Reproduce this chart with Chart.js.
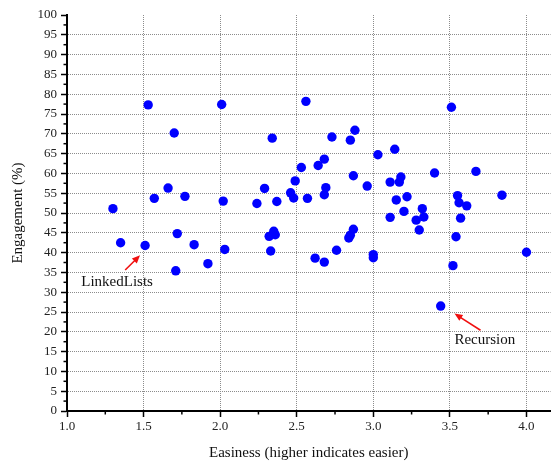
<!DOCTYPE html>
<html>
<head>
<meta charset="utf-8">
<script src="https://cdn.jsdelivr.net/npm/chart.js@4/dist/chart.umd.min.js"></script>
<style>
  html, body { margin: 0; padding: 0; background: #fff; }
</style>
</head>
<body>
<canvas id="easinessChart" width="551" height="462"></canvas>
<script>
// values, one entry per topic
const easiness = [
    1.30, 1.35, 1.51, 1.53, 1.57, 1.66, 1.70, 1.71, 1.72, 1.77,
    1.83, 1.92, 2.01, 2.02, 2.03, 2.24, 2.29, 2.32, 2.33, 2.34,
    2.35, 2.36, 2.37, 2.46, 2.48, 2.49, 2.53, 2.56, 2.57, 2.62,
    2.64, 2.68, 2.68, 2.68, 2.69, 2.73, 2.76, 2.84, 2.85, 2.85,
    2.87, 2.87, 2.88, 2.96, 3.00, 3.00, 3.03, 3.11, 3.11, 3.14,
    3.15, 3.17, 3.18, 3.20, 3.22, 3.28, 3.30, 3.32, 3.33, 3.40,
    3.44, 3.51, 3.52, 3.54, 3.55, 3.56, 3.57, 3.61, 3.67, 3.84,
    4.00
]
const engagement = [
    51.1, 42.5, 41.8, 77.3, 53.7, 56.3, 70.2, 35.4, 44.8, 54.2,
    42.0, 37.2, 77.4, 53.0, 40.8, 52.4, 56.2, 44.1, 40.4, 68.9,
    45.4, 44.5, 52.9, 55.1, 53.8, 58.1, 61.5, 78.2, 53.7, 38.6,
    62.0, 63.6, 54.6, 37.6, 56.4, 69.2, 40.6, 43.7, 44.4, 68.4,
    45.9, 59.4, 70.9, 56.8, 39.5, 38.7, 64.7, 57.8, 48.9, 66.1,
    53.3, 57.8, 59.1, 50.4, 54.1, 48.2, 45.7, 51.1, 49.0, 60.1,
    26.5, 76.7, 36.7, 44.0, 54.4, 52.6, 48.7, 51.8, 60.5, 54.5,
    40.1
]

const xTickValues = [1.0, 1.5, 2.0, 2.5, 3.0, 3.5, 4.0]
const xMinorTicks = [1.25, 1.75, 2.25, 2.75, 3.25, 3.75]
const yTickValues = [0, 5, 10, 15, 20, 25, 30, 35, 40, 45, 50, 55, 60, 65, 70, 75, 80, 85, 90, 95, 100]
const yMinorTicks = [2.5, 7.5, 12.5, 17.5, 22.5, 27.5, 32.5, 37.5, 42.5, 47.5, 52.5, 57.5, 62.5, 67.5, 72.5, 77.5, 82.5, 87.5, 92.5, 97.5]

// callouts: label text, label centre, arrow tail and head (data units)
const calloutTexts = ['LinkedLists', 'Recursion']
const calloutTextX = [1.327, 3.728]
const calloutTextY = [32.6, 17.9]
const arrowFromX = [1.38, 3.70]
const arrowFromY = [35.6, 20.4]
const arrowToX = [1.477, 3.53]
const arrowToY = [39.3, 24.6]

const serif = "'Liberation Serif', 'Times New Roman', serif"

const points = easiness.map((x, i) => ({x: x, y: engagement[i]}))

const minorTickPlugin = {
    id: 'minorTicks',
    afterDraw: chart => {
        const ctx = chart.ctx
        const xs = chart.scales.x
        const ys = chart.scales.y
        const area = chart.chartArea
        ctx.save()
        ctx.strokeStyle = '#000'
        ctx.lineWidth = 1.5
        xMinorTicks.forEach(v => {
            let px = xs.getPixelForValue(v)
            ctx.beginPath()
            ctx.moveTo(px, area.bottom)
            ctx.lineTo(px, area.bottom + 3.5)
            ctx.stroke()
        })
        yMinorTicks.forEach(v => {
            let py = ys.getPixelForValue(v)
            ctx.beginPath()
            ctx.moveTo(area.left, py)
            ctx.lineTo(area.left - 3.5, py)
            ctx.stroke()
        })
        ctx.restore()
    }
}

const calloutPlugin = {
    id: 'callouts',
    afterDraw: chart => {
        const ctx = chart.ctx
        const xs = chart.scales.x
        const ys = chart.scales.y
        ctx.save()
        calloutTexts.forEach((text, i) => {
            ctx.fillStyle = '#111'
            ctx.font = `15px ${serif}`
            ctx.textAlign = 'center'
            ctx.textBaseline = 'middle'
            ctx.fillText(text, xs.getPixelForValue(calloutTextX[i]), ys.getPixelForValue(calloutTextY[i]))

            let x0 = xs.getPixelForValue(arrowFromX[i])
            let y0 = ys.getPixelForValue(arrowFromY[i])
            let x1 = xs.getPixelForValue(arrowToX[i])
            let y1 = ys.getPixelForValue(arrowToY[i])
            let angle = Math.atan2(y1 - y0, x1 - x0)
            let headLen = 8
            ctx.strokeStyle = '#f01010'
            ctx.fillStyle = '#f01010'
            ctx.lineWidth = 1.6
            ctx.beginPath()
            ctx.moveTo(x0, y0)
            ctx.lineTo(x1 - Math.cos(angle) * headLen * 0.7, y1 - Math.sin(angle) * headLen * 0.7)
            ctx.stroke()
            ctx.beginPath()
            ctx.moveTo(x1, y1)
            ctx.lineTo(x1 - headLen * Math.cos(angle) + 3.5 * Math.sin(angle), y1 - headLen * Math.sin(angle) - 3.5 * Math.cos(angle))
            ctx.lineTo(x1 - headLen * Math.cos(angle) - 3.5 * Math.sin(angle), y1 - headLen * Math.sin(angle) + 3.5 * Math.cos(angle))
            ctx.closePath()
            ctx.fill()
        })
        ctx.restore()
    }
}

const gridColor = edgeValues => c => edgeValues.includes(c.tick?.value) ? 'rgba(0,0,0,0)' : '#8c8c8c'

new Chart(document.getElementById('easinessChart'), {
    type: 'scatter',
    data: {
        datasets: [{
            label: 'topics',
            data: points,
            backgroundColor: '#0000ff',
            borderWidth: 0,
            pointRadius: 4.7,
            pointHoverRadius: 4.7
        }]
    },
    options: {
        responsive: false,
        animation: false,
        layout: {
            autoPadding: false,
            padding: {left: 8, right: 0.5, top: 15, bottom: 0}
        },
        plugins: {
            legend: {display: false},
            tooltip: {enabled: false}
        },
        scales: {
            x: {
                type: 'linear',
                min: 1,
                max: 4.157,
                afterBuildTicks: scale => {
                    scale.ticks = xTickValues.map(v => ({value: v}))
                },
                afterFit: scale => {
                    scale.height = 51
                    scale.paddingLeft = 0
                    scale.paddingRight = 0
                },
                border: {display: true, color: '#000', width: 2, dash: [1, 1]},
                grid: {
                    color: gridColor([1]),
                    lineWidth: 1,
                    drawTicks: true,
                    tickLength: 6,
                    tickColor: '#000',
                    tickWidth: 1.5,
                    tickBorderDash: []
                },
                ticks: {
                    padding: 2,
                    color: '#222',
                    font: {family: serif, size: 13},
                    callback: v => v.toFixed(1)
                },
                title: {
                    display: true,
                    text: 'Easiness (higher indicates easier)',
                    color: '#111',
                    font: {family: serif, size: 15},
                    padding: {top: 0, bottom: 0}
                }
            },
            y: {
                type: 'linear',
                min: 0,
                max: 100,
                afterBuildTicks: scale => {
                    scale.ticks = yTickValues.map(v => ({value: v}))
                },
                afterFit: scale => {
                    scale.width = 59
                    scale.paddingTop = 0
                    scale.paddingBottom = 0
                },
                border: {display: true, color: '#000', width: 2, dash: [1, 1]},
                grid: {
                    color: gridColor([0, 100]),
                    lineWidth: 1,
                    drawTicks: true,
                    tickLength: 6,
                    tickColor: '#000',
                    tickWidth: 1.5,
                    tickBorderDash: []
                },
                ticks: {
                    padding: 4,
                    color: '#222',
                    font: {family: serif, size: 13},
                    callback: v => String(v)
                },
                title: {
                    display: true,
                    text: 'Engagement (%)',
                    color: '#111',
                    font: {family: serif, size: 15},
                    padding: {top: 1, bottom: 0}
                }
            }
        }
    },
    plugins: [minorTickPlugin, calloutPlugin]
})
</script>
</body>
</html>
